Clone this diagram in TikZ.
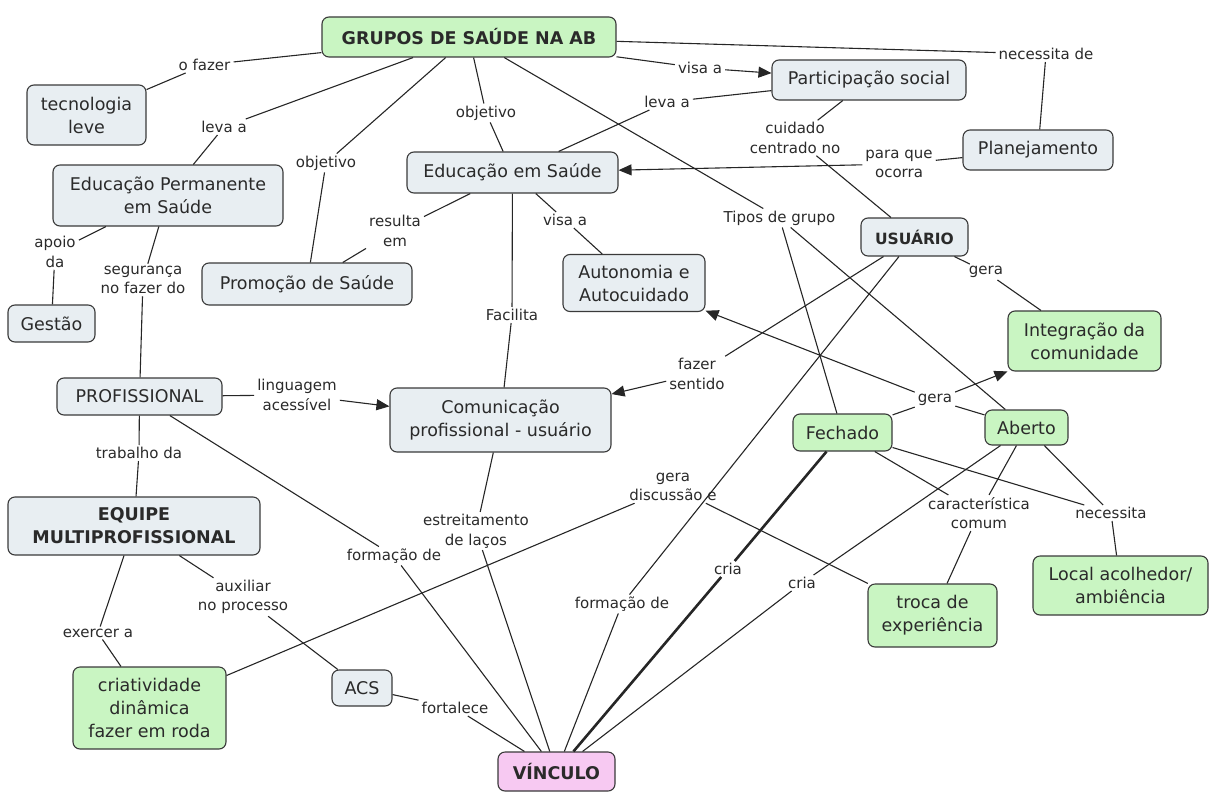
\documentclass[tikz,border=0pt]{standalone}
\usepackage{fontspec}
\setmainfont{DejaVu Sans}
\usetikzlibrary{arrows.meta}
\definecolor{bluefill}{HTML}{E8EEF2}
\definecolor{greenfill}{HTML}{C9F5C2}
\definecolor{pinkfill}{HTML}{F7C9F2}
\definecolor{bordc}{HTML}{3A3A3A}
\definecolor{txtc}{HTML}{2A2A2A}
\definecolor{linec}{HTML}{262626}
\newcommand\nodefont{\fontsize{17.5}{23}\selectfont}
\newcommand\usufont{\fontsize{15.5}{19}\selectfont\bfseries}
\newcommand\lblfont{\fontsize{15}{19.5}\selectfont}
\begin{document}
\begin{tikzpicture}[x=1pt,y=-1pt,
  box/.style={draw=bordc, line width=1.1pt, rounded corners=7pt, text=txtc, font=\nodefont, align=center, inner sep=0pt},
  bluebox/.style={box, fill=bluefill},
  greenbox/.style={box, fill=greenfill},
  pinkbox/.style={box, fill=pinkfill},
  boldtxt/.style={font=\nodefont\bfseries},
  sz/.style 2 args={minimum width=#1pt, minimum height=#2pt},
  lbl/.style={font=\lblfont, text=txtc, align=center, inner xsep=3pt, inner ysep=2pt},
  con/.style={draw=linec, line width=1.1pt},
  arr/.style={con, -{Triangle[length=13pt,width=11pt]}},
  thick con/.style={draw=linec, line width=2.6pt}
]
\useasboundingbox (0,0) rectangle (1209,792);

% concept nodes
\node[greenbox, boldtxt, sz={294}{40}] (grupos) at (469,37) {GRUPOS DE SAÚDE NA AB};
\node[bluebox, sz={119}{60}] (tec) at (86.5,115) {tecnologia\\leve};
\node[bluebox, sz={194}{40}] (part) at (869,80) {Participação social};
\node[bluebox, sz={150}{40}] (plan) at (1038,150) {Planejamento};
\node[bluebox, sz={211}{41}] (edu) at (512.5,172.5) {Educação em Saúde};
\node[bluebox, sz={230}{61}] (eps) at (168,195.5) {Educação Permanente\\em Saúde};
\node[bluebox, font=\usufont, sz={107}{38}] (usu) at (914.5,237) {USUÁRIO};
\node[bluebox, sz={142}{57}] (auto) at (634,283) {Autonomia e\\Autocuidado};
\node[bluebox, sz={210}{42}] (prom) at (307,284) {Promoção de Saúde};
\node[bluebox, sz={87}{37}] (gestao) at (51.5,323.5) {Gestão};
\node[greenbox, sz={153}{60}] (integ) at (1084.5,341) {Integração da\\comunidade};
\node[bluebox, sz={165}{37}] (prof) at (139.5,396.5) {PROFISSIONAL};
\node[bluebox, sz={221}{64}] (com) at (500.5,420) {Comunicação\\profissional - usuário};
\node[greenbox, sz={99}{37}] (fech) at (842.5,432.5) {Fechado};
\node[greenbox, sz={83}{35}] (aber) at (1026.5,427.5) {Aberto};
\node[bluebox, boldtxt, sz={252}{58}] (equipe) at (134,526) {EQUIPE\\MULTIPROFISSIONAL};
\node[greenbox, sz={175}{59}] (local) at (1120.5,585.5) {Local acolhedor/\\ambiência};
\node[greenbox, sz={129}{63}] (troca) at (932.5,615.5) {troca de\\experiência};
\node[greenbox, sz={153}{82}] (cria) at (149.5,708) {criatividade\\dinâmica\\fazer em roda};
\node[bluebox, sz={60}{36}] (acs) at (362,688) {ACS};
\node[pinkbox, boldtxt, sz={117}{39}] (vinc) at (556.5,771.5) {VÍNCULO};

% linking phrases
\node[lbl] (ofazer) at (204.5,65) {o fazer};
\node[lbl] (levaa1) at (224,127) {leva a};
\node[lbl] (obj1) at (326,163) {objetivo};
\node[lbl] (obj2) at (486,113) {objetivo};
\node[lbl] (visaa1) at (700,68) {visa a};
\node[lbl] (levaa2) at (667,102) {leva a};
\node[lbl] (necde) at (1046,54) {necessita de};
\node[lbl] (cuid) at (795,138) {cuidado\\centrado no};
\node[lbl] (paraque) at (899,164) {para que\\ocorra};
\node[lbl] (tipos) at (779.5,218) {Tipos de grupo};
\node[lbl] (gera1) at (986,272) {gera};
\node[lbl] (resulta) at (395,231) {resulta\\em};
\node[lbl] (visaa2) at (565,220) {visa a};
\node[lbl] (facilita) at (512,315) {Facilita};
\node[lbl] (apoio) at (55,252) {apoio\\da};
\node[lbl] (segur) at (143,280) {segurança\\no fazer do};
\node[lbl] (fazsent) at (697,374) {fazer\\sentido};
\node[lbl] (ling) at (297,395) {linguagem\\acessível};
\node[lbl] (gera2) at (935,400) {gera};
\node[lbl] (trab) at (139,453) {trabalho da};
\node[lbl] (geradisc) at (673,487) {gera\\discussão e};
\node[lbl] (form1) at (394,556) {formação de};
\node[lbl] (estreit) at (476,531) {estreitamento\\de laços};
\node[lbl] (caract) at (979,513) {característica\\comum};
\node[lbl] (necess) at (1111,513) {necessita};
\node[lbl] (auxil) at (243,597) {auxiliar\\no processo};
\node[lbl] (exerc) at (98,633) {exercer a};
\node[lbl] (cria1) at (728,569) {cria};
\node[lbl] (cria2) at (802,583) {cria};
\node[lbl] (form2) at (622,604) {formação de};
\node[lbl] (fortal) at (455,708) {fortalece};

% connectors
\draw[con] (grupos) -- (ofazer);  \draw[con] (ofazer) -- (tec);
\draw[con] (grupos) -- (levaa1);  \draw[con] (levaa1) -- (eps);
\draw[con] (grupos) -- (obj1);    \draw[con] (obj1) -- (prom);
\draw[con] (grupos) -- (obj2);    \draw[con] (obj2) -- (edu);
\draw[con] (grupos) -- (visaa1);  \draw[arr] (visaa1) -- (part);
\draw[con] (part) -- (levaa2);    \draw[con] (levaa2) -- (edu);
\draw[con] (grupos) -- (necde);   \draw[con] (necde) -- (plan);
\draw[con] (part) -- (cuid);      \draw[con] (cuid) -- (usu);
\draw[con] (plan) -- (paraque);   \draw[arr] (paraque) -- (edu);
\draw[con] (grupos) -- (tipos);   \draw[con] (tipos) -- (fech); \draw[con] (tipos) -- (aber);
\draw[con] (usu) -- (gera1);      \draw[con] (gera1) -- (integ);
\draw[con] (edu) -- (resulta);    \draw[con] (resulta) -- (prom);
\draw[con] (edu) -- (visaa2);     \draw[con] (visaa2) -- (auto);
\draw[con] (edu) -- (facilita);   \draw[con] (facilita) -- (com);
\draw[con] (eps) -- (apoio);      \draw[con] (apoio) -- (gestao);
\draw[con] (eps) -- (segur);      \draw[con] (segur) -- (prof);
\draw[con] (usu) -- (fazsent);    \draw[arr] (fazsent) -- (com);
\draw[con] (prof) -- (ling);      \draw[arr] (ling) -- (com);
\draw[con] (fech) -- (gera2);     \draw[con] (aber) -- (gera2);
\draw[arr] (gera2) -- (integ);    \draw[arr] (gera2) -- (auto);
\draw[con] (prof) -- (trab);      \draw[con] (trab) -- (equipe);
\draw[con] (cria) -- (geradisc);  \draw[con] (geradisc) -- (troca);
\draw[con] (prof) -- (form1);     \draw[con] (form1) -- (vinc);
\draw[con] (com) -- (estreit);    \draw[con] (estreit) -- (vinc);
\draw[con] (fech) -- (caract);    \draw[con] (aber) -- (caract);  \draw[con] (caract) -- (troca);
\draw[con] (fech) -- (necess);    \draw[con] (aber) -- (necess);  \draw[con] (necess) -- (local);
\draw[con] (equipe) -- (auxil);   \draw[con] (auxil) -- (acs);
\draw[con] (equipe) -- (exerc);   \draw[con] (exerc) -- (cria);
\draw[thick con] (fech) -- (cria1); \draw[thick con] (cria1) -- (vinc);
\draw[con] (aber) -- (cria2);      \draw[con] (cria2) -- (vinc);
\draw[con] (usu) -- (form2);      \draw[con] (form2) -- (vinc);
\draw[con] (acs) -- (fortal);     \draw[con] (fortal) -- (vinc);
\end{tikzpicture}
\end{document}
